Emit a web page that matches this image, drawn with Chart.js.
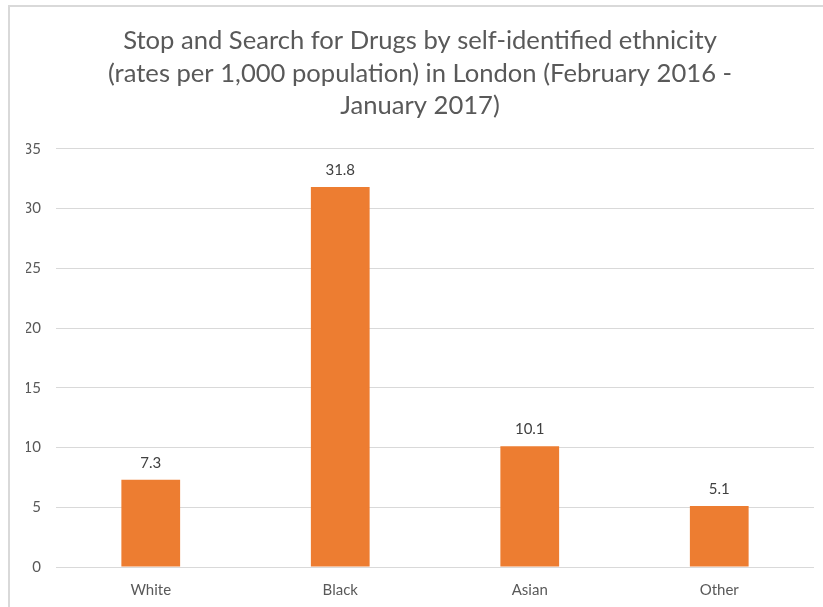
<!DOCTYPE html>
<html>
<head>
<meta charset="utf-8">
<script src="https://cdn.jsdelivr.net/npm/chart.js@4/dist/chart.umd.min.js"></script>
<style>
  html, body { margin: 0; padding: 0; background: #fff; overflow: hidden; width: 823px; height: 607px; }
  #frame { position: absolute; left: 8px; top: 5px; width: 900px; height: 700px; border: 2px solid #d9d9d9; box-sizing: border-box; }
  #wrap { position: absolute; left: 0; top: 0; width: 840px; height: 613px; }
  canvas { display: block; }
</style>
</head>
<body>
<div id="frame"></div>
<div id="wrap"><canvas id="c" width="840" height="613"></canvas></div>
<script>
const titleLines = [
  "Stop and Search for Drugs by self-identified ethnicity",
  "(rates per 1,000 population) in London (February 2016 -",
  "January 2017)"
];
const categories = ["White", "Black", "Asian", "Other"];
const rates = [7.3, 31.8, 10.1, 5.1];
const yTicks = [0, 5, 10, 15, 20, 25, 30, 35];

const FONT = "Lato, 'Open Sans', sans-serif";
const TXT = "#595959";

const valueLabels = {
  id: "valueLabels",
  afterDatasetsDraw(chart) {
    const ctx = chart.ctx;
    const meta = chart.getDatasetMeta(0);
    ctx.save();
    ctx.font = "15px " + FONT;
    ctx.fillStyle = "#404040";
    ctx.textAlign = "center";
    ctx.textBaseline = "middle";
    meta.data.forEach((bar, i) => {
      ctx.fillText(rates[i].toFixed(1), bar.x, bar.y - 17);
    });
    ctx.restore();
  }
};

new Chart(document.getElementById("c"), {
  type: "bar",
  data: {
    labels: categories,
    datasets: [{
      data: rates,
      backgroundColor: "#ED7D31",
      borderWidth: 0,
      categoryPercentage: 1.0,
      barPercentage: 0.31
    }]
  },
  options: {
    responsive: false,
    animation: false,
    layout: { padding: { left: 26, right: 26, top: 11, bottom: 0 } },
    plugins: {
      legend: { display: false },
      tooltip: { enabled: false },
      title: {
        display: true,
        text: titleLines,
        color: TXT,
        font: { family: FONT, size: 25.6, weight: "normal", lineHeight: 1.26 },
        padding: { top: 14, bottom: 27 }
      }
    },
    scales: {
      x: {
        grid: { display: false, drawTicks: false },
        border: { display: false },
        ticks: { color: TXT, font: { family: FONT, size: 15 }, padding: 14 }
      },
      y: {
        min: 0, max: 35,
        afterBuildTicks(scale) { scale.ticks = yTicks.map(v => ({ value: v })); },
        afterFit(scale) { scale.width = 30; },
        grid: { color: "#d9d9d9", drawTicks: false },
        border: { display: false },
        ticks: { color: TXT, font: { family: FONT, size: 15 }, padding: 15 }
      }
    }
  },
  plugins: [valueLabels]
});
</script>
</body>
</html>
